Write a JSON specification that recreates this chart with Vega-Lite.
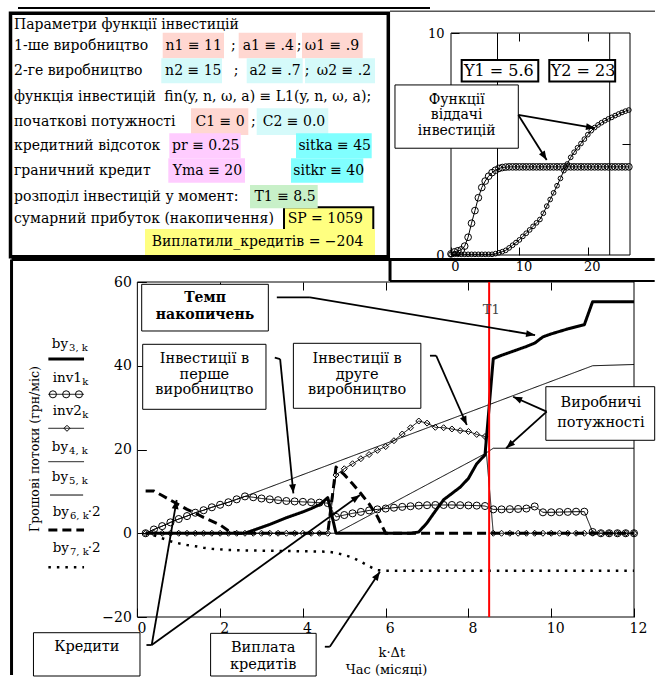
{
  "$schema": "https://vega.github.io/schema/vega-lite/v6.json",
  "padding": 0,
  "autosize": {"type": "pad"},
  "background": "white",
  "bounds": "flush",
  "spacing": 24,
  "config": {
    "view": {"stroke": null},
    "font": "DejaVu Serif",
    "text": {"font": "DejaVu Serif", "color": "black"},
    "axis": {"labelFont": "DejaVu Serif", "labelColor": "black", "tickColor": "black", "domain": false, "grid": false, "title": null, "labelFlush": false, "tickWidth": 1}
  },
  "datasets": {
    "ser": [
      {"s":"inv1","x":0.2,"y":0},{"s":"inv1","x":0.4,"y":0.9},{"s":"inv1","x":0.6,"y":1.7},{"s":"inv1","x":0.8,"y":2.6},{"s":"inv1","x":1.0,"y":3.4},{"s":"inv1","x":1.2,"y":4.1},{"s":"inv1","x":1.4,"y":4.9},{"s":"inv1","x":1.6,"y":5.5},{"s":"inv1","x":1.8,"y":6.2},{"s":"inv1","x":2.0,"y":6.8},{"s":"inv1","x":2.2,"y":7.4},{"s":"inv1","x":2.4,"y":8.1},{"s":"inv1","x":2.6,"y":8.8},{"s":"inv1","x":2.8,"y":8.6},{"s":"inv1","x":3.0,"y":8.3},{"s":"inv1","x":3.2,"y":8.1},{"s":"inv1","x":3.4,"y":7.9},{"s":"inv1","x":3.6,"y":7.7},{"s":"inv1","x":3.8,"y":7.6},{"s":"inv1","x":4.0,"y":7.5},{"s":"inv1","x":4.2,"y":7.4},{"s":"inv1","x":4.4,"y":7.3},{"s":"inv1","x":4.6,"y":7.2},{"s":"inv1","x":4.8,"y":3.9},{"s":"inv1","x":5.0,"y":4.35},{"s":"inv1","x":5.2,"y":4.75},{"s":"inv1","x":5.4,"y":5.1},{"s":"inv1","x":5.6,"y":5.45},{"s":"inv1","x":5.8,"y":5.7},{"s":"inv1","x":6.0,"y":5.9},{"s":"inv1","x":6.2,"y":6.1},{"s":"inv1","x":6.4,"y":6.3},{"s":"inv1","x":6.6,"y":6.45},{"s":"inv1","x":6.8,"y":6.6},{"s":"inv1","x":7.0,"y":6.7},{"s":"inv1","x":7.2,"y":6.75},{"s":"inv1","x":7.4,"y":6.75},{"s":"inv1","x":7.6,"y":6.75},{"s":"inv1","x":7.8,"y":6.7},{"s":"inv1","x":8.0,"y":6.65},{"s":"inv1","x":8.2,"y":6.6},{"s":"inv1","x":8.4,"y":6.5},{"s":"inv1","x":8.6,"y":5.7},{"s":"inv1","x":8.8,"y":5.7},{"s":"inv1","x":9.0,"y":5.75},{"s":"inv1","x":9.2,"y":5.8},{"s":"inv1","x":9.4,"y":5.9},{"s":"inv1","x":9.6,"y":6.4},{"s":"inv1","x":9.8,"y":5.0},{"s":"inv1","x":10.0,"y":5.0},{"s":"inv1","x":10.2,"y":5.05},{"s":"inv1","x":10.4,"y":5.1},{"s":"inv1","x":10.6,"y":5.15},{"s":"inv1","x":10.8,"y":5.15},{"s":"inv1","x":11.0,"y":0.3},{"s":"inv1","x":11.2,"y":0},{"s":"inv1","x":11.4,"y":0},{"s":"inv1","x":11.6,"y":0},{"s":"inv1","x":11.8,"y":0},{"s":"inv1","x":12.0,"y":0},
      {"s":"inv2","x":0.2,"y":0},{"s":"inv2","x":0.4,"y":0},{"s":"inv2","x":0.6,"y":0},{"s":"inv2","x":0.8,"y":0},{"s":"inv2","x":1.0,"y":0},{"s":"inv2","x":1.2,"y":0},{"s":"inv2","x":1.4,"y":0},{"s":"inv2","x":1.6,"y":0},{"s":"inv2","x":1.8,"y":0},{"s":"inv2","x":2.0,"y":0},{"s":"inv2","x":2.2,"y":0},{"s":"inv2","x":2.4,"y":0},{"s":"inv2","x":2.6,"y":0},{"s":"inv2","x":2.8,"y":0},{"s":"inv2","x":3.0,"y":0},{"s":"inv2","x":3.2,"y":0},{"s":"inv2","x":3.4,"y":0},{"s":"inv2","x":3.6,"y":0},{"s":"inv2","x":3.8,"y":0},{"s":"inv2","x":4.0,"y":0},{"s":"inv2","x":4.2,"y":0},{"s":"inv2","x":4.4,"y":0},{"s":"inv2","x":4.6,"y":0},{"s":"inv2","x":4.8,"y":13.9},{"s":"inv2","x":5.0,"y":15.4},{"s":"inv2","x":5.2,"y":16.6},{"s":"inv2","x":5.4,"y":17.8},{"s":"inv2","x":5.6,"y":18.8},{"s":"inv2","x":5.8,"y":19.8},{"s":"inv2","x":6.0,"y":20.7},{"s":"inv2","x":6.2,"y":22.1},{"s":"inv2","x":6.4,"y":23.7},{"s":"inv2","x":6.6,"y":25.2},{"s":"inv2","x":6.8,"y":26.8},{"s":"inv2","x":7.0,"y":26.3},{"s":"inv2","x":7.2,"y":25.3},{"s":"inv2","x":7.4,"y":25.2},{"s":"inv2","x":7.6,"y":24.9},{"s":"inv2","x":7.8,"y":24.5},{"s":"inv2","x":8.0,"y":24.3},{"s":"inv2","x":8.2,"y":23.6},{"s":"inv2","x":8.4,"y":23.1},{"s":"inv2","x":8.6,"y":0},{"s":"inv2","x":8.8,"y":0},{"s":"inv2","x":9.0,"y":0},{"s":"inv2","x":9.2,"y":0},{"s":"inv2","x":9.4,"y":0},{"s":"inv2","x":9.6,"y":0},{"s":"inv2","x":9.8,"y":0},{"s":"inv2","x":10.0,"y":0},{"s":"inv2","x":10.2,"y":0},{"s":"inv2","x":10.4,"y":0},{"s":"inv2","x":10.6,"y":0},{"s":"inv2","x":10.8,"y":0},{"s":"inv2","x":11.0,"y":0},{"s":"inv2","x":11.2,"y":0},{"s":"inv2","x":11.4,"y":0},{"s":"inv2","x":11.6,"y":0},{"s":"inv2","x":11.8,"y":0},{"s":"inv2","x":12.0,"y":0},
      {"s":"by3","x":0.2,"y":0},{"s":"by3","x":2.6,"y":0},{"s":"by3","x":2.8,"y":0.7},{"s":"by3","x":3.0,"y":1.4},{"s":"by3","x":3.2,"y":2.1},{"s":"by3","x":3.4,"y":2.9},{"s":"by3","x":3.6,"y":3.7},{"s":"by3","x":3.8,"y":4.4},{"s":"by3","x":4.0,"y":5.1},{"s":"by3","x":4.2,"y":5.9},{"s":"by3","x":4.4,"y":6.8},{"s":"by3","x":4.6,"y":8.5},{"s":"by3","x":4.8,"y":0},{"s":"by3","x":6.6,"y":0},{"s":"by3","x":6.8,"y":0.3},{"s":"by3","x":7.0,"y":2.5},{"s":"by3","x":7.2,"y":5.3},{"s":"by3","x":7.4,"y":8.0},{"s":"by3","x":7.6,"y":9.5},{"s":"by3","x":7.8,"y":11.0},{"s":"by3","x":8.0,"y":13.1},{"s":"by3","x":8.2,"y":16.6},{"s":"by3","x":8.4,"y":18.7},{"s":"by3","x":8.6,"y":41.7},{"s":"by3","x":8.8,"y":42.5},{"s":"by3","x":9.0,"y":43.2},{"s":"by3","x":9.2,"y":43.9},{"s":"by3","x":9.4,"y":44.6},{"s":"by3","x":9.6,"y":45.4},{"s":"by3","x":9.8,"y":46.9},{"s":"by3","x":10.0,"y":47.6},{"s":"by3","x":10.2,"y":48.2},{"s":"by3","x":10.4,"y":48.8},{"s":"by3","x":10.6,"y":49.3},{"s":"by3","x":10.8,"y":49.8},{"s":"by3","x":11.0,"y":55.3},{"s":"by3","x":12.0,"y":55.3},
      {"s":"by4","x":0.2,"y":0},{"s":"by4","x":0.4,"y":0.9},{"s":"by4","x":0.6,"y":1.7},{"s":"by4","x":0.8,"y":2.6},{"s":"by4","x":1.0,"y":3.4},{"s":"by4","x":1.2,"y":4.1},{"s":"by4","x":1.4,"y":4.9},{"s":"by4","x":1.6,"y":5.5},{"s":"by4","x":1.8,"y":6.2},{"s":"by4","x":2.0,"y":6.8},{"s":"by4","x":2.2,"y":7.4},{"s":"by4","x":2.4,"y":8.1},{"s":"by4","x":2.6,"y":8.8},{"s":"by4","x":11.0,"y":40.0},{"s":"by4","x":12.0,"y":40.3},
      {"s":"by5","x":0.2,"y":0},{"s":"by5","x":4.8,"y":0},{"s":"by5","x":8.4,"y":19.0},{"s":"by5","x":8.6,"y":20.3},{"s":"by5","x":12.0,"y":20.3},
      {"s":"by6","x":0.2,"y":10.1},{"s":"by6","x":0.4,"y":10.1},{"s":"by6","x":0.6,"y":9.0},{"s":"by6","x":0.8,"y":7.9},{"s":"by6","x":1.0,"y":6.8},{"s":"by6","x":1.2,"y":5.7},{"s":"by6","x":1.4,"y":4.8},{"s":"by6","x":1.6,"y":3.8},{"s":"by6","x":1.8,"y":2.9},{"s":"by6","x":2.0,"y":2.0},{"s":"by6","x":2.2,"y":0.6},{"s":"by6","x":2.4,"y":0},{"s":"by6","x":4.6,"y":0},{"s":"by6","x":4.8,"y":15.8},{"s":"by6","x":5.0,"y":14.0},{"s":"by6","x":5.2,"y":11.8},{"s":"by6","x":5.4,"y":9.5},{"s":"by6","x":5.6,"y":7.0},{"s":"by6","x":5.8,"y":4.0},{"s":"by6","x":6.0,"y":0},{"s":"by6","x":12.0,"y":0},
      {"s":"by7","x":0.2,"y":0},{"s":"by7","x":0.4,"y":-0.5},{"s":"by7","x":0.6,"y":-1.2},{"s":"by7","x":0.8,"y":-1.9},{"s":"by7","x":1.0,"y":-2.4},{"s":"by7","x":1.2,"y":-2.8},{"s":"by7","x":1.4,"y":-3.1},{"s":"by7","x":1.6,"y":-3.45},{"s":"by7","x":1.8,"y":-3.7},{"s":"by7","x":2.0,"y":-3.85},{"s":"by7","x":2.2,"y":-4.0},{"s":"by7","x":2.6,"y":-4.1},{"s":"by7","x":3.6,"y":-4.25},{"s":"by7","x":4.6,"y":-4.4},{"s":"by7","x":4.8,"y":-4.7},{"s":"by7","x":5.0,"y":-5.2},{"s":"by7","x":5.2,"y":-5.8},{"s":"by7","x":5.4,"y":-6.8},{"s":"by7","x":5.6,"y":-7.9},{"s":"by7","x":5.8,"y":-8.8},{"s":"by7","x":6.0,"y":-8.95},{"s":"by7","x":12.0,"y":-8.95}
    ],
    "legl": [
      {"s":"by3","x":-2.15,"x2":-1.288,"y":41.6},
      {"s":"inv1","x":-2.15,"x2":-1.288,"y":33.18},
      {"s":"inv2","x":-2.15,"x2":-1.288,"y":25.06},
      {"s":"by4","x":-2.15,"x2":-1.288,"y":17.09},
      {"s":"by5","x":-2.11,"x2":-1.31,"y":9.13},
      {"s":"by6","x":-2.15,"x2":-1.288,"y":0.77},
      {"s":"by7","x":-2.15,"x2":-1.288,"y":-8.13}
    ],
    "sc": [
      {"s":"c1","x":0,"y":0.05},{"s":"c1","x":0.5,"y":0.14},{"s":"c1","x":1,"y":0.19},{"s":"c1","x":1.5,"y":0.23},{"s":"c1","x":2,"y":0.4},{"s":"c1","x":2.5,"y":0.8},{"s":"c1","x":3,"y":1.43},{"s":"c1","x":3.5,"y":2.0},{"s":"c1","x":4,"y":2.58},{"s":"c1","x":4.5,"y":3.04},{"s":"c1","x":5,"y":3.33},{"s":"c1","x":5.5,"y":3.55},{"s":"c1","x":6,"y":3.71},{"s":"c1","x":6.5,"y":3.82},{"s":"c1","x":7,"y":3.9},{"s":"c1","x":7.5,"y":3.94},{"s":"c1","x":8,"y":3.96},{"s":"c1","x":8.5,"y":3.97},{"s":"c1","x":9,"y":3.97},{"s":"c1","x":9.5,"y":3.97},{"s":"c1","x":10,"y":3.97},{"s":"c1","x":10.5,"y":3.97},{"s":"c1","x":11,"y":3.97},{"s":"c1","x":11.5,"y":3.97},{"s":"c1","x":12,"y":3.97},{"s":"c1","x":12.5,"y":3.97},{"s":"c1","x":13,"y":3.97},{"s":"c1","x":13.5,"y":3.97},{"s":"c1","x":14,"y":3.97},{"s":"c1","x":14.5,"y":3.97},{"s":"c1","x":15,"y":3.97},{"s":"c1","x":15.5,"y":3.97},{"s":"c1","x":16,"y":3.97},{"s":"c1","x":16.5,"y":3.97},{"s":"c1","x":17,"y":3.97},{"s":"c1","x":17.5,"y":3.97},{"s":"c1","x":18,"y":3.97},{"s":"c1","x":18.5,"y":3.97},{"s":"c1","x":19,"y":3.97},{"s":"c1","x":19.5,"y":3.97},{"s":"c1","x":20,"y":3.97},{"s":"c1","x":20.5,"y":3.97},{"s":"c1","x":21,"y":3.97},{"s":"c1","x":21.5,"y":3.97},{"s":"c1","x":22,"y":3.97},{"s":"c1","x":22.5,"y":3.97},{"s":"c1","x":23,"y":3.97},{"s":"c1","x":23.5,"y":3.97},{"s":"c1","x":24,"y":3.97},{"s":"c1","x":24.5,"y":3.97},{"s":"c1","x":25,"y":3.97},{"s":"c1","x":25.5,"y":3.97},{"s":"c1","x":26,"y":3.97},
      {"s":"c2","x":0,"y":0.03},{"s":"c2","x":0.5,"y":0.03},{"s":"c2","x":1,"y":0.03},{"s":"c2","x":1.5,"y":0.03},{"s":"c2","x":2,"y":0.03},{"s":"c2","x":2.5,"y":0.03},{"s":"c2","x":3,"y":0.03},{"s":"c2","x":3.5,"y":0.03},{"s":"c2","x":4,"y":0.03},{"s":"c2","x":4.5,"y":0.03},{"s":"c2","x":5,"y":0.03},{"s":"c2","x":5.5,"y":0.03},{"s":"c2","x":6,"y":0.03},{"s":"c2","x":6.5,"y":0.06},{"s":"c2","x":7,"y":0.1},{"s":"c2","x":7.5,"y":0.15},{"s":"c2","x":8,"y":0.21},{"s":"c2","x":8.5,"y":0.32},{"s":"c2","x":9,"y":0.44},{"s":"c2","x":9.5,"y":0.56},{"s":"c2","x":10,"y":0.68},{"s":"c2","x":10.5,"y":0.84},{"s":"c2","x":11,"y":0.98},{"s":"c2","x":11.5,"y":1.13},{"s":"c2","x":12,"y":1.29},{"s":"c2","x":12.5,"y":1.45},{"s":"c2","x":13,"y":1.6},{"s":"c2","x":13.5,"y":1.88},{"s":"c2","x":14,"y":2.2},{"s":"c2","x":14.5,"y":2.5},{"s":"c2","x":15,"y":2.8},{"s":"c2","x":15.5,"y":3.12},{"s":"c2","x":16,"y":3.45},{"s":"c2","x":16.5,"y":3.8},{"s":"c2","x":17,"y":4.1},{"s":"c2","x":17.5,"y":4.4},{"s":"c2","x":18,"y":4.63},{"s":"c2","x":18.5,"y":4.83},{"s":"c2","x":19,"y":5.02},{"s":"c2","x":19.5,"y":5.22},{"s":"c2","x":20,"y":5.42},{"s":"c2","x":20.5,"y":5.6},{"s":"c2","x":21,"y":5.74},{"s":"c2","x":21.5,"y":5.86},{"s":"c2","x":22,"y":5.96},{"s":"c2","x":22.5,"y":6.05},{"s":"c2","x":23,"y":6.13},{"s":"c2","x":23.5,"y":6.2},{"s":"c2","x":24,"y":6.28},{"s":"c2","x":24.5,"y":6.35},{"s":"c2","x":25,"y":6.42},{"s":"c2","x":25.5,"y":6.48},{"s":"c2","x":26,"y":6.53}
    ]
  },
  "vconcat": [
    {
      "width": 624,
      "height": 246,
      "resolve": {"scale": {"x": "independent", "y": "independent"}},
      "layer": [
        {
          "encoding": {
            "x": {"field": "col", "type": "quantitative", "scale": {"domain": [0, 624], "nice": false, "zero": false}, "axis": null},
            "y": {"field": "row", "type": "quantitative", "scale": {"domain": [0.634, 10.634], "nice": false, "zero": false, "reverse": true}, "axis": null}
          },
          "layer": [
            {"data": {"values": [{"col": -9.9, "col2": 648.5, "row": 0.1503, "row2": 27.7276}]}, "mark": {"type": "rect", "fill": "white", "stroke": null}, "encoding": {"x2": {"field": "col2"}, "y2": {"field": "row2"}}},
            {"data": {"values": [{"col": 274, "col2": 363.3, "row": 8.573, "row2": 9.496}]}, "mark": {"type": "rect", "fill": "#FFFF80", "stroke": "black", "strokeWidth": 2}, "encoding": {"x2": {"field": "col2"}, "y2": {"field": "row2"}}},
            {"data": {"values": [
              {"col":152.7,"col2":214,"row":1.475,"row2":2.516,"k":"p1"},
              {"col":228.7,"col2":286,"row":1.475,"row2":2.516,"k":"p1"},
              {"col":292,"col2":352.7,"row":1.475,"row2":2.516,"k":"p1"},
              {"col":151.3,"col2":212,"row":2.516,"row2":3.532,"k":"p2"},
              {"col":236.7,"col2":292.7,"row":2.516,"row2":3.532,"k":"p2"},
              {"col":295,"col2":365,"row":2.516,"row2":3.532,"k":"p2"},
              {"col":181,"col2":238.3,"row":4.549,"row2":5.634,"k":"p1"},
              {"col":246.7,"col2":318.3,"row":4.549,"row2":5.634,"k":"p2"},
              {"col":159.3,"col2":230.7,"row":5.565,"row2":6.581,"k":"pm"},
              {"col":286,"col2":361.7,"row":5.565,"row2":6.581,"k":"cy"},
              {"col":158.3,"col2":235,"row":6.581,"row2":7.573,"k":"pm"},
              {"col":281,"col2":353.3,"row":6.581,"row2":7.573,"k":"cy"},
              {"col":240,"col2":307.7,"row":7.667,"row2":8.614,"k":"gr"},
              {"col":135,"col2":365,"row":9.46,"row2":10.512,"k":"ye"}
            ]}, "mark": {"type": "rect", "stroke": null}, "encoding": {"x2": {"field": "col2"}, "y2": {"field": "row2"}, "color": {"field": "k", "type": "nominal", "scale": {"domain": ["p1","p2","pm","cy","gr","ye"], "range": ["#FFD7D1","#D5FAFA","#FFCCFF","#80FFFF","#C8F0C8","#FFFF80"]}, "legend": null}}},
            {"data": {"values": [{"col": 0.5, "col2": 378.3, "row": 0.687, "row2": 10.581}]}, "mark": {"type": "rect", "filled": false, "color": "black", "strokeWidth": 3.5}, "encoding": {"x2": {"field": "col2"}, "y2": {"field": "row2"}}},
            {"data": {"values": [{"col": 8, "col2": 420, "row": 0.47}]}, "mark": {"type": "rule", "color": "black", "strokeWidth": 2}, "encoding": {"x2": {"field": "col2"}}},
            {"data": {"values": [{"col": 380, "col2": 645, "row": 0.6}]}, "mark": {"type": "rule", "color": "black", "strokeWidth": 1}, "encoding": {"x2": {"field": "col2"}}},
            {"data": {"values": [
              {"col":4,"row":1.18,"t":"Параметри функції інвестицій"},
              {"col":4,"row":2.0,"t":"1-ше виробництво"},
              {"col":4,"row":3.02,"t":"2-ге виробництво"},
              {"col":4,"row":4.09,"t":"функція інвестицій"},
              {"col":154.3,"row":4.09,"t":"fin(y, n, ω, a) ≡ L1(y, n, ω, a);"},
              {"col":4,"row":5.09,"t":"початкові потужності"},
              {"col":4,"row":6.07,"t":"кредитний відсоток"},
              {"col":4,"row":7.08,"t":"граничний кредит"},
              {"col":4,"row":8.14,"t":"розподіл інвестицій у момент:"},
              {"col":4,"row":9.04,"t":"сумарний прибуток (накопичення)"}
            ]}, "mark": {"type": "text", "align": "left", "baseline": "middle", "fontSize": 14, "font": "DejaVu Serif"}, "encoding": {"text": {"field": "t"}}},
            {"data": {"values": [
              {"col":183.7,"row":2.0,"t":"n1 ≡ 11"},{"col":223.3,"row":2.0,"t":";"},{"col":258.3,"row":2.0,"t":"a1 ≡ .4"},{"col":289,"row":2.0,"t":";"},{"col":322,"row":2.0,"t":"ω1 ≡ .9"},
              {"col":183.3,"row":3.02,"t":"n2 ≡ 15"},{"col":226,"row":3.02,"t":";"},{"col":265,"row":3.02,"t":"a2 ≡ .7"},{"col":297,"row":3.02,"t":";"},{"col":334,"row":3.02,"t":"ω2 ≡ .2"},
              {"col":210,"row":5.09,"t":"C1 ≡ 0"},{"col":243.3,"row":5.09,"t":";"},{"col":284,"row":5.09,"t":"C2 ≡ 0.0"},
              {"col":195.8,"row":6.07,"t":"pr ≡ 0.25"},{"col":324.7,"row":6.07,"t":"sitka ≡ 45"},
              {"col":197.5,"row":7.08,"t":"Yma ≡ 20"},{"col":318.7,"row":7.08,"t":"sitkr ≡ 40"},
              {"col":275,"row":8.14,"t":"T1 ≡ 8.5"},
              {"col":315.3,"row":9.04,"t":"SP = 1059"},
              {"col":247.5,"row":10.0,"t":"Виплатили_кредитів = −204"}
            ]}, "mark": {"type": "text", "align": "center", "baseline": "middle", "fontSize": 14, "font": "DejaVu Serif"}, "encoding": {"text": {"field": "t"}}}
          ]
        },
        {
          "resolve": {"axis": {"x": "independent", "y": "independent"}},
          "encoding": {
            "x": {"field": "x", "type": "quantitative", "scale": {"domain": [-64.474, 26.754], "nice": false, "zero": false}, "axis": null},
            "y": {"field": "y", "type": "quantitative", "scale": {"domain": [-0.135, 10.946], "nice": false, "zero": false}, "axis": null}
          },
          "layer": [
            {"data": {"values": [{"x": 0, "x2": 26.17, "y": 0, "y2": 10}]}, "mark": {"type": "rect", "filled": false, "color": "black", "strokeWidth": 1},
             "encoding": {
               "x": {"field": "x", "type": "quantitative", "scale": {"domain": [-64.474, 26.754], "nice": false, "zero": false}, "axis": {"orient": "top", "offset": -21, "values": [10, 20], "tickSize": -8, "labels": false, "domain": false, "grid": false, "title": null, "zindex": 1}},
               "y": {"field": "y", "type": "quantitative", "scale": {"domain": [-0.135, 10.946], "nice": false, "zero": false}, "axis": {"orient": "right", "offset": -4, "values": [5], "tickSize": -8, "labels": false, "domain": false, "grid": false, "title": null, "zindex": 1}},
               "x2": {"field": "x2"}, "y2": {"field": "y2"}}},
            {"data": {"values": [{"x": 6.8, "y": 0, "y2": 10}, {"x": 23.2, "y": 0, "y2": 10}]}, "mark": {"type": "rule", "color": "black", "strokeWidth": 1}, "encoding": {"y2": {"field": "y2"}}},
            {"data": {"name": "sc"}, "mark": {"type": "line", "color": "black", "strokeWidth": 1},
             "encoding": {
               "x": {"field": "x", "type": "quantitative", "scale": {"domain": [-64.474, 26.754], "nice": false, "zero": false}, "axis": {"orient": "bottom", "offset": -3, "values": [0, 10, 20], "tickSize": -8, "labelPadding": 13, "labelOffset": 4, "labelFontSize": 13, "domain": false, "grid": false, "title": null, "zindex": 1}},
               "y": {"field": "y", "type": "quantitative", "scale": {"domain": [-0.135, 10.946], "nice": false, "zero": false}, "axis": {"orient": "left", "offset": -441, "values": [0, 10], "tickSize": -8, "labelPadding": 15, "labelFontSize": 13, "domain": false, "grid": false, "title": null, "zindex": 1}},
               "detail": {"field": "s"}}},
            {"data": {"name": "sc"}, "transform": [{"filter": "datum.s === 'c1'"}], "mark": {"type": "point", "shape": "circle", "filled": false, "color": "black", "strokeWidth": 1, "size": 45, "opacity": 1}},
            {"data": {"name": "sc"}, "transform": [{"filter": "datum.s === 'c2'"}], "mark": {"type": "point", "shape": "circle", "filled": false, "color": "black", "strokeWidth": 1, "size": 22, "opacity": 1}},
            {"data": {"values": [{"x": 1.56, "x2": 12.76, "y": 7.81, "y2": 8.78}, {"x": 14.37, "x2": 24.0, "y": 7.81, "y2": 8.78}]}, "mark": {"type": "rect", "fill": "white", "stroke": "black", "strokeWidth": 2}, "encoding": {"x2": {"field": "x2"}, "y2": {"field": "y2"}}},
            {"data": {"values": [{"x": -8.19, "x2": 9.84, "y": 4.81, "y2": 7.66}]}, "mark": {"type": "rect", "fill": "white", "stroke": "black", "strokeWidth": 1}, "encoding": {"x2": {"field": "x2"}, "y2": {"field": "y2"}}},
            {"data": {"values": [{"x": 6.99, "y": 8.29, "t": "Y1 = 5.6"}, {"x": 19.3, "y": 8.29, "t": "Y2 = 23"}]}, "mark": {"type": "text", "align": "center", "baseline": "middle", "fontSize": 16, "font": "DejaVu Serif"}, "encoding": {"text": {"field": "t"}}},
            {"data": {"values": [{"x": 0.83, "y": 7.0, "t": "Функції"}, {"x": 0.83, "y": 6.31, "t": "віддачі"}, {"x": 0.83, "y": 5.6, "t": "інвестицій"}]}, "mark": {"type": "text", "align": "center", "baseline": "middle", "fontSize": 14, "font": "DejaVu Serif"}, "encoding": {"text": {"field": "t"}}},
            {"data": {"values": [{"x": 9.84, "y": 6.31, "x2": 21.05, "y2": 5.72}, {"x": 9.84, "y": 6.31, "x2": 13.99, "y2": 4.28}]}, "mark": {"type": "rule", "color": "black", "strokeWidth": 1.8}, "encoding": {"x2": {"field": "x2"}, "y2": {"field": "y2"}}},
            {"data": {"values": [{"x": 21.05, "y": 5.72}]}, "mark": {"type": "point", "shape": "M0,0L-0.38,1L0.38,1Z", "size": 324, "angle": 99.6, "filled": true, "color": "black", "opacity": 1}},
            {"data": {"values": [{"x": 13.99, "y": 4.28}]}, "mark": {"type": "point", "shape": "M0,0L-0.38,1L0.38,1Z", "size": 324, "angle": 147.7, "filled": true, "color": "black", "opacity": 1}}
          ]
        }
      ]
    },
    {
      "width": 624,
      "height": 335,
      "resolve": {"axis": {"x": "independent", "y": "independent"}},
      "encoding": {
        "x": {"field": "x", "type": "quantitative", "scale": {"domain": [-3.077, 12], "nice": false, "zero": false}, "axis": null},
        "y": {"field": "y", "type": "quantitative", "scale": {"domain": [-20, 60], "nice": false, "zero": false}, "axis": null}
      },
      "layer": [
        {"data": {"values": [{"x": 0, "x2": 12, "y": -20, "y2": 60}]}, "mark": {"type": "rect", "filled": false, "color": "black", "strokeWidth": 1},
         "encoding": {
           "x": {"field": "x", "type": "quantitative", "scale": {"domain": [-3.077, 12], "nice": false, "zero": false}, "axis": {"orient": "top", "values": [2, 4, 6, 8, 10], "tickSize": -8, "labels": false, "domain": false, "grid": false, "title": null}},
           "x2": {"field": "x2"}, "y2": {"field": "y2"}}},
        {"data": {"name": "ser"}, "mark": {"type": "line", "color": "black", "strokeCap": "butt", "strokeJoin": "round"},
         "encoding": {
           "x": {"field": "x", "type": "quantitative", "scale": {"domain": [-3.077, 12], "nice": false, "zero": false}, "axis": {"orient": "bottom", "values": [0, 2, 4, 6, 8, 10, 12], "tickSize": -9, "labelPadding": 13, "labelOffset": 4, "labelFontSize": 14, "domain": false, "grid": false, "title": null}},
           "y": {"field": "y", "type": "quantitative", "scale": {"domain": [-20, 60], "nice": false, "zero": false}, "axis": {"orient": "left", "offset": -127.35, "values": [-20, 0, 20, 40, 60], "tickSize": -9, "labelPadding": 15, "labelFontSize": 14, "domain": false, "grid": false, "title": null}},
           "detail": {"field": "s"},
           "strokeWidth": {"field": "s", "type": "nominal", "scale": {"type": "ordinal", "domain": ["by3","inv1","inv2","by4","by5","by6","by7"], "range": [3, 1, 1, 1, 1, 3, 2.5]}, "legend": null},
           "strokeDash": {"field": "s", "type": "nominal", "scale": {"domain": ["by3","inv1","inv2","by4","by5","by6","by7"], "range": [[1,0],[1,0],[1,0],[1,0],[1,0],[9,5],[2.5,6]]}, "legend": null}}},
        {"data": {"name": "ser"}, "transform": [{"filter": "datum.s === 'inv1'"}], "mark": {"type": "point", "shape": "circle", "filled": false, "color": "black", "strokeWidth": 1, "size": 50, "opacity": 1}},
        {"data": {"name": "ser"}, "transform": [{"filter": "datum.s === 'inv2'"}], "mark": {"type": "point", "shape": "diamond", "filled": false, "color": "black", "strokeWidth": 1, "size": 36, "opacity": 1}},
        {"data": {"values": [{"x": 8.5, "y": -20, "y2": 60}]}, "mark": {"type": "rule", "color": "#FF0000", "strokeWidth": 2}, "encoding": {"y2": {"field": "y2"}}},
        {"data": {"name": "legl"}, "mark": {"type": "rule", "color": "black", "strokeCap": "butt"},
         "encoding": {"x2": {"field": "x2"},
           "strokeWidth": {"field": "s", "type": "nominal", "scale": {"type": "ordinal", "domain": ["by3","inv1","inv2","by4","by5","by6","by7"], "range": [3, 1, 1, 1, 1, 3, 2.5]}, "legend": null},
           "strokeDash": {"field": "s", "type": "nominal", "scale": {"domain": ["by3","inv1","inv2","by4","by5","by6","by7"], "range": [[1,0],[1,0],[1,0],[1,0],[1,0],[9,5],[2.5,6]]}, "legend": null}}},
        {"data": {"values": [{"x": -2.04, "y": 33.18}, {"x": -1.72, "y": 33.18}, {"x": -1.41, "y": 33.18}]}, "mark": {"type": "point", "shape": "circle", "filled": false, "color": "black", "strokeWidth": 1, "size": 50, "opacity": 1}},
        {"data": {"values": [{"x": -1.70, "y": 25.06}]}, "mark": {"type": "point", "shape": "diamond", "filled": false, "color": "black", "strokeWidth": 1, "size": 36, "opacity": 1}},
        {"data": {"values": [{"x":-2.068,"y":45.12,"t":"by"},{"x":-2.045,"y":37.0,"t":"inv1"},{"x":-2.045,"y":29.19,"t":"inv2"},{"x":-2.068,"y":20.67,"t":"by"},{"x":-2.068,"y":13.43,"t":"by"},{"x":-2.045,"y":5.15,"t":"by"},{"x":-2.045,"y":-3.6,"t":"by"}]},
         "mark": {"type": "text", "align": "left", "baseline": "middle", "fontSize": 13.5, "font": "DejaVu Serif"}, "encoding": {"text": {"field": "t"}}},
        {"data": {"values": [{"x":-1.651,"y":45.12,"t":"3, k"},{"x":-1.33,"y":37.0,"t":"k"},{"x":-1.33,"y":29.19,"t":"k"},{"x":-1.651,"y":20.67,"t":"4, k"},{"x":-1.651,"y":13.43,"t":"5, k"},{"x":-1.628,"y":5.15,"t":"6, k"},{"x":-1.628,"y":-3.6,"t":"7, k"}]},
         "mark": {"type": "text", "align": "left", "baseline": "middle", "fontSize": 10, "dy": 4, "font": "DejaVu Serif"}, "encoding": {"text": {"field": "t"}}},
        {"data": {"values": [{"x":-1.2,"y":5.15,"t":"·2"},{"x":-1.2,"y":-3.6,"t":"·2"}]},
         "mark": {"type": "text", "align": "left", "baseline": "middle", "fontSize": 13.5, "font": "DejaVu Serif"}, "encoding": {"text": {"field": "t"}}},
        {"data": {"values": [
          {"x":0.105,"x2":3.165,"y":48.3,"y2":59.45},
          {"x":0.129,"x2":3.108,"y":29.6,"y2":45.12},
          {"x":3.77,"x2":6.85,"y":29.84,"y2":45.36},
          {"x":9.87,"x2":12.5,"y":22.2,"y2":35.0},
          {"x":-2.51,"x2":0.064,"y":-34.09,"y2":-23.75},
          {"x":1.77,"x2":4.32,"y":-34.09,"y2":-23.9}
        ]}, "mark": {"type": "rect", "fill": "white", "stroke": "black", "strokeWidth": 1}, "encoding": {"x2": {"field": "x2"}, "y2": {"field": "y2"}}},
        {"data": {"values": [
          {"x":1.62,"y":41.6,"t":"Інвестиції в"},{"x":1.62,"y":37.9,"t":"перше"},{"x":1.62,"y":34.2,"t":"виробництво"},
          {"x":5.31,"y":41.6,"t":"Інвестиції в"},{"x":5.31,"y":37.9,"t":"друге"},{"x":5.31,"y":34.2,"t":"виробництво"},
          {"x":11.2,"y":31.03,"t":"Виробничі"},{"x":11.2,"y":26.26,"t":"потужності"},
          {"x":-1.22,"y":-27.1,"t":"Кредити"},
          {"x":3.04,"y":-27.5,"t":"Виплата"},{"x":3.04,"y":-31.46,"t":"кредитів"}
        ]}, "mark": {"type": "text", "align": "center", "baseline": "middle", "fontSize": 14.5, "font": "DejaVu Serif"}, "encoding": {"text": {"field": "t"}}},
        {"data": {"values": [{"x":1.635,"y":56.1,"t":"Темп"},{"x":1.635,"y":52.1,"t":"накопичень"}]}, "mark": {"type": "text", "align": "center", "baseline": "middle", "fontSize": 14, "fontWeight": "bold", "font": "DejaVu Serif"}, "encoding": {"text": {"field": "t"}}},
        {"data": {"values": [{"x":6.15,"y":-28.5,"t":"k·Δt"},{"x":6.02,"y":-32.66,"t":"Час (місяці)"}]}, "mark": {"type": "text", "align": "center", "baseline": "middle", "fontSize": 13, "font": "DejaVu Serif"}, "encoding": {"text": {"field": "t"}}},
        {"data": {"values": [{"x":8.55,"y":53.3,"t":"T1"}]}, "mark": {"type": "text", "align": "center", "baseline": "middle", "fontSize": 13, "color": "#444444", "font": "DejaVu Serif"}, "encoding": {"text": {"field": "t"}}},
        {"data": {"values": [{"x":-2.47,"y":20.1,"t":"Грошові потоки (грн/міс)"}]}, "mark": {"type": "text", "align": "center", "baseline": "middle", "fontSize": 12.5, "angle": 270, "font": "DejaVu Serif"}, "encoding": {"text": {"field": "t"}}},
        {"data": {"values": [
          {"x":3.37,"y":56.35,"x2":4.17,"y2":56.35},{"x":4.17,"y":56.35,"x2":9.61,"y2":47.34},
          {"x":3.32,"y":41.92,"x2":3.45,"y2":41.6},{"x":3.45,"y":41.6,"x2":3.77,"y2":9.54},
          {"x":7.07,"y":42.4,"x2":7.22,"y2":42.4},{"x":7.22,"y":42.4,"x2":7.96,"y2":25.85},
          {"x":9.89,"y":29.03,"x2":9.08,"y2":32.6},{"x":9.89,"y":29.03,"x2":8.91,"y2":20.29},
          {"x":0.22,"y":-26.69,"x2":0.347,"y2":-26.69},{"x":0.347,"y":-26.69,"x2":0.95,"y2":7.94},{"x":0.347,"y":-26.69,"x2":5.38,"y2":9.13},
          {"x":4.53,"y":-27.1,"x2":4.65,"y2":-27.1},{"x":4.65,"y":-27.1,"x2":5.86,"y2":-9.18}
        ]}, "mark": {"type": "rule", "color": "black", "strokeWidth": 1.8}, "encoding": {"x2": {"field": "x2"}, "y2": {"field": "y2"}}},
        {"data": {"values": [{"x": 9.61, "y": 47.34}]}, "mark": {"type": "point", "shape": "M0,0L-0.38,1L0.38,1Z", "size": 324, "angle": 99.5, "filled": true, "color": "black", "opacity": 1}},
        {"data": {"values": [{"x": 3.77, "y": 9.54}]}, "mark": {"type": "point", "shape": "M0,0L-0.38,1L0.38,1Z", "size": 324, "angle": 174.3, "filled": true, "color": "black", "opacity": 1}},
        {"data": {"values": [{"x": 7.96, "y": 25.85}]}, "mark": {"type": "point", "shape": "M0,0L-0.38,1L0.38,1Z", "size": 324, "angle": 156.1, "filled": true, "color": "black", "opacity": 1}},
        {"data": {"values": [{"x": 9.08, "y": 32.6}]}, "mark": {"type": "point", "shape": "M0,0L-0.38,1L0.38,1Z", "size": 324, "angle": -65.8, "filled": true, "color": "black", "opacity": 1}},
        {"data": {"values": [{"x": 8.91, "y": 20.29}]}, "mark": {"type": "point", "shape": "M0,0L-0.38,1L0.38,1Z", "size": 324, "angle": -132, "filled": true, "color": "black", "opacity": 1}},
        {"data": {"values": [{"x": 0.95, "y": 7.94}]}, "mark": {"type": "point", "shape": "M0,0L-0.38,1L0.38,1Z", "size": 324, "angle": 9.8, "filled": true, "color": "black", "opacity": 1}},
        {"data": {"values": [{"x": 5.38, "y": 9.13}]}, "mark": {"type": "point", "shape": "M0,0L-0.38,1L0.38,1Z", "size": 324, "angle": 54.2, "filled": true, "color": "black", "opacity": 1}},
        {"data": {"values": [{"x": 5.86, "y": -9.18}]}, "mark": {"type": "point", "shape": "M0,0L-0.38,1L0.38,1Z", "size": 324, "angle": 33.7, "filled": true, "color": "black", "opacity": 1}},
        {"data": {"values": [
          {"x":-3.04,"y":65.37,"x2":-3.04,"y2":-33.85},
          {"x":-3.04,"y":65.37,"x2":12.5,"y2":65.37},
          {"x":6.105,"y":65.37,"x2":6.105,"y2":60.24}
        ]}, "mark": {"type": "rule", "color": "black", "strokeWidth": 3}, "encoding": {"x2": {"field": "x2"}, "y2": {"field": "y2"}}},
        {"data": {"values": [{"x":6.105,"y":60.24,"x2":12.5,"y2":60.24}]}, "mark": {"type": "rule", "color": "black", "strokeWidth": 2}, "encoding": {"x2": {"field": "x2"}, "y2": {"field": "y2"}}}
      ]
    }
  ]
}
